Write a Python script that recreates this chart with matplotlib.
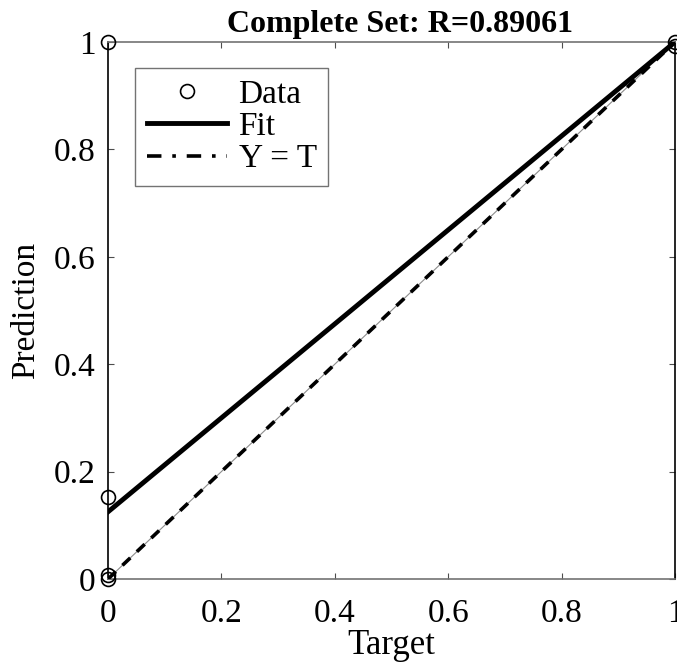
import numpy as np
import matplotlib.pyplot as plt
from matplotlib.lines import Line2D

plt.rcParams['font.family'] = ['Liberation Serif', 'DejaVu Serif']

# Data
targets = [0, 0, 0, 0, 1, 1]
predictions = [1.0, 0.152, 0.0, 0.008, 1.0, 0.992]
fit_slope = 0.875
fit_intercept = 0.125
r_value = 0.89061
ticks = [0, 0.2, 0.4, 0.6, 0.8, 1]
tick_labels = ['0', '0.2', '0.4', '0.6', '0.8', '1']

fig = plt.figure(figsize=(6.77, 6.66), dpi=100)
ax = fig.add_axes([108 / 677, 1 - 579 / 666, (675 - 108) / 677, (579 - 42) / 666])

xs = np.array([0.0, 1.0])
# Y = T: thin grey line under thick black dashes
ax.plot(xs, xs, color='0.55', lw=0.8, zorder=2)
ax.plot(xs, xs, color='k', lw=2.6, linestyle=(0, (3, 2.5)), zorder=3)
fit_line, = ax.plot(xs, fit_slope * xs + fit_intercept, color='k', lw=3.5, zorder=4)
data_pts, = ax.plot(targets, predictions, 'o', mfc='none', mec='k', ms=10, mew=1.2,
                    clip_on=False, zorder=5)
yt_handle = Line2D([], [], color='k', lw=2.6, linestyle=(0, (4, 3, 1, 3)))

ax.set_xlim(0, 1)
ax.set_ylim(0, 1)
ax.set_xticks(ticks)
ax.set_xticklabels(tick_labels)
ax.set_yticks(ticks)
ax.set_yticklabels(tick_labels)
ax.tick_params(direction='in', length=4, width=0.8, color='0.3', labelsize=24,
               top=True, right=True)
ax.tick_params(axis='x', pad=14)
ax.tick_params(axis='y', pad=9)
for side in ['top', 'bottom']:
    ax.spines[side].set_color('0.45')
    ax.spines[side].set_linewidth(1.2)
for side in ['left', 'right']:
    ax.spines[side].set_color('k')
    ax.spines[side].set_linewidth(1.2)

ax.set_title(f'Complete Set: R={r_value:.5f}', fontsize=23, fontweight='bold',
             pad=7, x=0.515)
ax.set_xlabel('Target', fontsize=25, labelpad=0)
ax.set_ylabel('Prediction', fontsize=24, labelpad=9)

leg = ax.legend([data_pts, fit_line, yt_handle], ['Data', 'Fit', 'Y = T'],
                loc='upper left', bbox_to_anchor=(0.048, 0.952), borderaxespad=0,
                fontsize=24, fancybox=False, framealpha=1, edgecolor='0.45',
                handlelength=2.4, handletextpad=0.35, borderpad=0.35, labelspacing=0.05)
leg.get_frame().set_linewidth(1.0)

fig.savefig('out.png', dpi=100)
